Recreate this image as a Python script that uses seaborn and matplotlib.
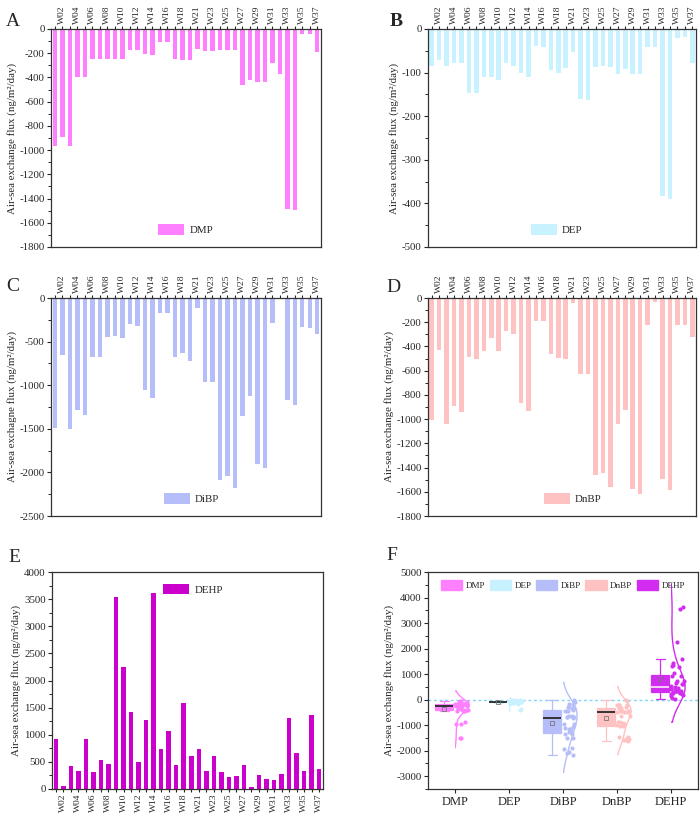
import numpy as np
import pandas as pd
import matplotlib.pyplot as plt
import seaborn as sns
from matplotlib.patches import Patch, Rectangle
from matplotlib.ticker import MultipleLocator

weeks = ['W01', 'W02', 'W03', 'W04', 'W05', 'W06', 'W07', 'W08', 'W09', 'W10',
         'W11', 'W12', 'W13', 'W14', 'W15', 'W16', 'W17', 'W18', 'W20', 'W21',
         'W22', 'W23', 'W24', 'W25', 'W26', 'W27', 'W28', 'W29', 'W30', 'W31',
         'W32', 'W33', 'W34', 'W35', 'W36', 'W37']

dmp = [-970, -890, -970, -393, -393, -245, -245, -245, -245, -245, -173, -173,
       -209, -217, -104, -104, -245, -258, -258, -165, -181, -181, -176, -176,
       -176, -462, -420, -440, -440, -280, -371, -1487, -1498, -44, -44, -190]
dep = [-84, -71, -86, -79, -79, -147, -146, -109, -111, -117, -79, -85,
       -102, -111, -40, -42, -95, -100, -89, -53, -161, -163, -88, -86,
       -88, -103, -92, -103, -104, -41, -42, -384, -391, -21, -19, -77]
dibp = [-1491, -658, -1506, -1281, -1338, -677, -677, -447, -436, -459, -302, -317,
        -1059, -1143, -172, -172, -680, -631, -727, -111, -963, -963, -2083, -2041,
        -2179, -1353, -1124, -1900, -1950, -287, -5, -1166, -1223, -333, -344, -409]
dnbp = [-1010, -427, -1043, -894, -941, -487, -503, -440, -330, -440, -275, -294,
        -867, -935, -193, -193, -462, -492, -501, -41, -630, -625, -1464, -1445,
        -1560, -1043, -922, -1577, -1615, -226, -33, -1497, -1588, -226, -226, -322]
dehp = [919, 49, 417, 331, 919, 312, 527, 466, 3541, 2255, 1421, 490,
        1274, 3620, 735, 1060, 447, 1593, 600, 741, 337, 600, 306, 214,
        233, 435, 37, 257, 190, 159, 276, 1305, 662, 331, 1366, 368]

compounds = ['DMP', 'DEP', 'DiBP', 'DnBP', 'DEHP']
colors = ['#ff80ff', '#c8f2ff', '#b6befa', '#ffc2c2', '#d22cf0']
dehp_bar_color = '#cc00cc'

sns.set_style('ticks')
plt.rcParams['font.family'] = ['Liberation Serif', 'DejaVu Serif']
plt.rcParams['axes.unicode_minus'] = False
plt.rcParams['axes.edgecolor'] = '#333333'
plt.rcParams['axes.linewidth'] = 0.9

fig = plt.figure(figsize=(7, 8.18), dpi=100)


def px_axes(l, t, r, b):
    return fig.add_axes([l / 700, 1 - b / 818, (r - l) / 700, (b - t) / 818])


YLAB = 'Air-sea exchange flux (ng/m\u00b2/day)'


def bar_panel(ax, vals, color, name, ylim, major, top=True, ylabel=YLAB,
              leg_loc='lower center', leg_x=0.5, leg_y=0.01):
    sns.barplot(x=weeks, y=vals, color=color, saturation=1, width=0.6,
                errorbar=None, linewidth=0, label=name, ax=ax)
    ax.set_xlim(-0.5, 35.5)
    ax.set_ylim(*ylim)
    ax.yaxis.set_major_locator(MultipleLocator(major))
    ax.yaxis.set_minor_locator(MultipleLocator(major / 2))
    ax.set_xticks(range(len(weeks)))
    ax.set_xticklabels([w if i % 2 == 1 else '' for i, w in enumerate(weeks)],
                       rotation=90)
    if top:
        ax.xaxis.tick_top()
    ax.set_xlabel('')
    ax.tick_params(axis='x', labelsize=6.8, length=2.5, width=0.8, pad=1)
    ax.tick_params(axis='y', labelsize=7.8, length=3, width=0.8, pad=1.5)
    ax.tick_params(axis='y', which='minor', length=2, width=0.7)
    ax.set_ylabel(ylabel, fontsize=7.8, labelpad=2)
    ax.legend(loc=leg_loc, bbox_to_anchor=(leg_x, leg_y), frameon=False,
              fontsize=7.8, handlelength=2.4, handleheight=1.1, handletextpad=0.5)
    for s in ax.spines.values():
        s.set_visible(True)


axA = px_axes(51, 29, 321, 247)
bar_panel(axA, dmp, colors[0], 'DMP', (-1800, 0), 200)
axB = px_axes(428, 29, 696, 247)
bar_panel(axB, dep, colors[1], 'DEP', (-500, 0), 100, leg_x=0.48)
axC = px_axes(51, 298, 321, 516)
bar_panel(axC, dibp, colors[2], 'DiBP', (-2500, 0), 500,
          ylabel='Air-sea exchagne flux (ng/m\u00b2/day)', leg_x=0.52)
axD = px_axes(428, 298, 696, 516)
bar_panel(axD, dnbp, colors[3], 'DnBP', (-1800, 0), 200, leg_x=0.54)
axE = px_axes(52, 572, 323, 789)
bar_panel(axE, dehp, dehp_bar_color, 'DEHP', (0, 4000), 500, top=False,
          leg_loc='upper center', leg_x=0.52, leg_y=0.99)

# panel F: box + points + half violin
axF = px_axes(428, 572, 698, 789)
np.random.seed(7)
series = [dmp, dep, dibp, dnbp, dehp]
for i, (name, vals, c) in enumerate(zip(compounds, series, colors)):
    n = len(vals)
    med_c = '#f4d0fa' if name == 'DEHP' else '#333333'
    sns.boxplot(x=np.full(n, i - 0.2), y=vals, native_scale=True, orient='x',
                width=0.33, color=c, linecolor=c, saturation=1, showfliers=False,
                linewidth=0.9, showmeans=True,
                meanprops=dict(marker='s', markerfacecolor='none',
                               markeredgecolor='#777777', markersize=3,
                               markeredgewidth=0.6),
                medianprops=dict(color=med_c, linewidth=1.4), ax=axF)
    n0c, n0l = len(axF.collections), len(axF.lines)
    sns.violinplot(x=np.full(n, float(i)), y=vals, native_scale=True, orient='x',
                   width=0.52, fill=False, inner=None, density_norm='width',
                   bw_adjust=1.4, cut=1.6, color=c, linewidth=1, saturation=1,
                   ax=axF)
    clip = Rectangle((i, -1e5), 1, 2e5, transform=axF.transData)
    for art in axF.collections[n0c:] + axF.lines[n0l:]:
        art.set_clip_path(clip)
    sns.stripplot(x=np.full(n, i + 0.12), y=vals, native_scale=True, orient='x',
                  jitter=0.12, color=c, size=3, linewidth=0, ax=axF)

axF.axhline(0, color='#7fd4f5', ls=(0, (2, 2)), lw=1, zorder=0.5)
axF.set_xlim(-0.5, 4.5)
axF.set_ylim(-3500, 5000)
axF.set_xticks(range(5))
axF.set_xticklabels(compounds)
axF.yaxis.set_major_locator(MultipleLocator(1000))
axF.yaxis.set_minor_locator(MultipleLocator(500))
axF.tick_params(axis='x', labelsize=9, length=3, width=0.8, pad=2)
axF.tick_params(axis='y', labelsize=7.8, length=3, width=0.8, pad=1.5)
axF.tick_params(axis='y', which='minor', length=2, width=0.7)
axF.set_xlabel('')
axF.set_ylabel(YLAB, fontsize=7.8, labelpad=2)
handles = [Patch(facecolor=c, edgecolor=c) for c in colors]
axF.legend(handles, compounds, loc='upper center', bbox_to_anchor=(0.5, 1.0),
           ncol=5, frameon=False, fontsize=6.6, handlelength=2.3, handleheight=1.3,
           columnspacing=0.5, handletextpad=0.4)

for lab, x, y, w in [('A', 13, 22, 'normal'), ('B', 396, 21, 'bold'),
                     ('C', 13, 287, 'normal'), ('D', 393, 288, 'normal'),
                     ('E', 14, 557, 'normal'), ('F', 392, 556, 'normal')]:
    fig.text(x / 700, 1 - y / 818, lab, fontsize=14, fontweight=w,
             ha='center', va='center')

fig.savefig('out.png', dpi=100)
